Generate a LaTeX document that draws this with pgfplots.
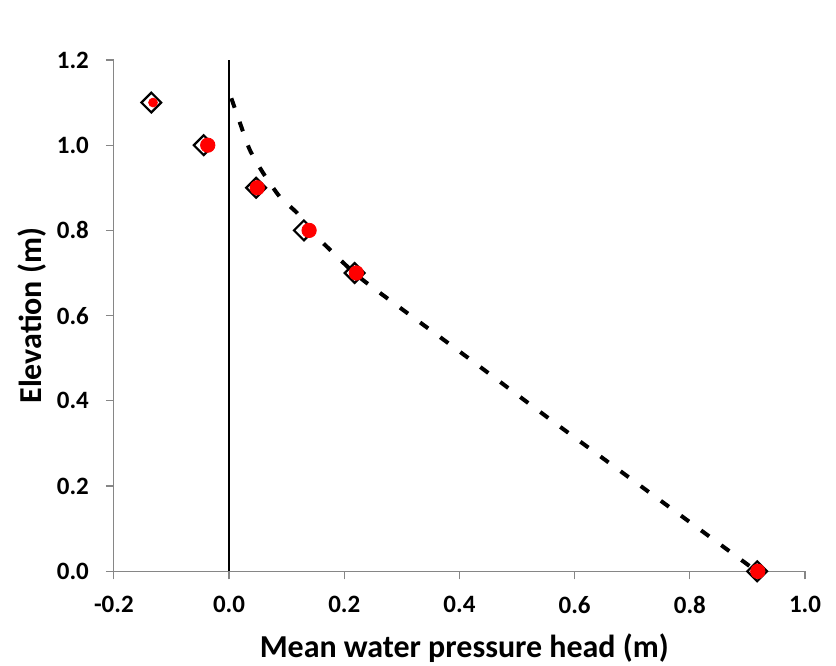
\documentclass[border=0pt]{standalone}
\usepackage{fontspec}
\setmainfont{Carlito}
\usepackage{pgfplots}
\pgfplotsset{compat=1.18}
\definecolor{axgray}{HTML}{868686}
\begin{document}
\begin{tikzpicture}
\useasboundingbox (-57pt,-47pt) rectangle (361.5pt,286pt);
\begin{axis}[
  at={(0,0)}, anchor=south west,
  scale only axis, width=346pt, height=256pt,
  xmin=-0.2, xmax=1.0, ymin=0, ymax=1.2,
  clip=false,
  axis x line=bottom, axis y line=left,
  axis line style={-, draw=axgray, line width=0.6pt},
  xtick={-0.2,0,0.2,0.4,0.6,0.8,1.0},
  ytick={0,0.2,0.4,0.6,0.8,1.0,1.2},
  tick align=outside, major tick length=4pt,
  tick style={draw=axgray, line width=0.6pt},
  ticklabel style={font=\fontsize{12.5}{14}\selectfont\bfseries,
    /pgf/number format/fixed, /pgf/number format/fixed zerofill,
    /pgf/number format/precision=1, /pgf/number format/assume math mode=true},
  xticklabel style={yshift=-5pt},
  yticklabel style={xshift=-5pt},
  label style={font=\fontsize{16}{19}\selectfont\bfseries},
  xlabel={Mean water pressure head (m)},
  ylabel={Elevation (m)},
  xlabel style={at={(axis description cs:0.507,-0.15)}, anchor=center},
  ylabel style={at={(axis description cs:-0.1185,0.5)}, anchor=center},
]
% vertical reference line at zero
\addplot[black, line width=1.2pt] coordinates {(0,0) (0,1.2)};
% measured (diamonds)
\addplot[only marks, mark=square*, mark size=3.5pt,
  mark options={rotate=45, fill=white, draw=black, line width=1.1pt}]
  coordinates {(-0.135,1.1) (-0.044,1.0) (0.047,0.9) (0.130,0.8) (0.218,0.7) (0.917,0.0)};
% simulated (red dots)
\addplot[only marks, red, mark=*, mark size=2.2pt]
  coordinates {(-0.132,1.1)};
\addplot[only marks, red, mark=*, mark size=3.6pt]
  coordinates {(-0.037,1.0) (0.049,0.9) (0.139,0.8) (0.221,0.7) (0.918,0.0)};
% dashed profile
\addplot[black, line width=2pt, dash pattern=on 5pt off 7.5pt, smooth, tension=0.4]
  coordinates {(0.004,1.11) (0.019,1.052) (0.036,0.989) (0.059,0.935) (0.088,0.879)
    (0.118,0.841) (0.146,0.794) (0.175,0.755) (0.232,0.684) (0.400,0.516)
    (0.562,0.352) (0.740,0.175) (0.881,0.035) (0.916,0.0)};
\end{axis}
\end{tikzpicture}
\end{document}
